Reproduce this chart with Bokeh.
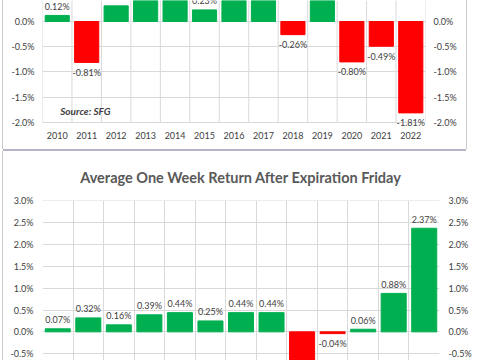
from bokeh.plotting import figure
from bokeh.models import (Range1d, FixedTicker, LinearAxis, PrintfTickFormatter,
                          ColumnDataSource, Label, LabelSet)
from bokeh.layouts import column
from bokeh.embed import file_html
from bokeh.resources import INLINE
from bokeh.core.properties import value

# ---------------- data ----------------
years = ["2010", "2011", "2012", "2013", "2014", "2015", "2016",
         "2017", "2018", "2019", "2020", "2021", "2022"]
expiry_week_return = [0.12, -0.81, 0.31, 0.58, 0.62, 0.23, 0.55,
                      0.52, -0.26, 0.48, -0.80, -0.49, -1.81]
week_after_return = [0.07, 0.32, 0.16, 0.39, 0.44, 0.25, 0.44,
                     0.44, -0.78, -0.04, 0.06, 0.88, 2.37]
top_ticks = [-2.0, -1.5, -1.0, -0.5, 0.0, 0.5]
bottom_ticks = [-0.5, 0.0, 0.5, 1.0, 1.5, 2.0, 2.5, 3.0]
bottom_title = "Average One Week Return After Expiration Friday"
source_note = "Source: SFG"

GREEN = "#00B050"
RED = "#FF0000"
FONT = "Lato"
TXT = "#404040"
GRID = "#d9d9d9"


def make_source(vals):
    n = len(vals)
    return ColumnDataSource(dict(
        x=[i + 0.5 for i in range(n)],
        v=vals,
        c=[GREEN if v >= 0 else RED for v in vals],
        lab=[f"{v:.2f}%" for v in vals],
        yo=[9 if v >= 0 else -10 for v in vals],
    ))


def style(p, n, ticks, standoff):
    p.x_range = Range1d(0, n)
    p.outline_line_color = None
    p.xgrid.ticker = FixedTicker(ticks=list(range(n + 1)))
    p.xgrid.grid_line_color = GRID
    p.ygrid.ticker = FixedTicker(ticks=ticks)
    p.ygrid.grid_line_color = GRID
    p.xaxis.ticker = FixedTicker(ticks=[i + 0.5 for i in range(n)])
    p.xaxis.major_label_overrides = {i + 0.5: years[i] for i in range(n)}
    p.yaxis.ticker = FixedTicker(ticks=ticks)
    p.yaxis.formatter = PrintfTickFormatter(format="%.1f%%")
    ax = LinearAxis(ticker=FixedTicker(ticks=ticks),
                    formatter=PrintfTickFormatter(format="%.1f%%"))
    p.add_layout(ax, "right")
    for ax in p.xaxis + p.yaxis:
        ax.axis_line_color = None
        ax.major_tick_line_color = None
        ax.minor_tick_line_color = None
        ax.major_tick_out = 0
        ax.major_label_text_font = FONT
        ax.major_label_text_font_size = "9px"
        ax.major_label_text_color = TXT
        ax.major_label_standoff = standoff


def bars(p, src):
    p.vbar(x="x", top="v", bottom=0, width=0.82, source=src,
           fill_color="c", line_color="c")
    p.add_layout(LabelSet(x="x", y="v", text="lab", source=src, y_offset="yo",
                          text_align="center", text_baseline="middle",
                          text_font=value(FONT), text_font_size="9px",
                          text_color=TXT))


n = len(years)

# ---------------- top (cropped) chart ----------------
top_range = Range1d(-2.139, 0.416)
top = figure(width=463, height=149, output_backend="svg", toolbar_location=None,
             y_range=top_range,
             min_border_left=36, min_border_right=41,
             min_border_top=0, min_border_bottom=20)
top.margin = (0, 0, 0, 3)
style(top, n, top_ticks, 8)
top.xaxis.major_label_standoff = 2
# vertical category gridlines stop at the lowest tick, like the plot area
top.xgrid.visible = False
bounds = list(range(n + 1))
top.segment(x0=bounds, x1=bounds, y0=[min(top_ticks)] * len(bounds),
            y1=[top_range.end] * len(bounds), line_color=GRID, line_width=1,
            level="underlay")
bars(top, make_source(expiry_week_return))
top.add_layout(Label(x=0.6, y=-1.77, text=source_note, text_font=FONT,
                     text_font_size="10px", text_font_style="bold italic",
                     text_color=TXT, text_baseline="middle"))
top.styles = {"box-shadow": "-1px 0 0 #c8c8c8, 1px 0 0 #c8c8c8, 0 2px 0 #b4b4c4"}

# ---------------- bottom chart ----------------
bot = figure(width=477, height=209, output_backend="svg", toolbar_location=None,
             y_range=Range1d(-0.655, 3.005),
             min_border_left=39, min_border_right=40,
             min_border_top=44, min_border_bottom=0)
bot.margin = (2, 0, 0, 3)
style(bot, n, bottom_ticks, 9)
bot.xaxis.visible = False
bars(bot, make_source(week_after_return))
bot.title.text = bottom_title
bot.title.align = "center"
bot.title.text_font = FONT
bot.title.text_font_size = "14.5px"
bot.title.text_font_style = "bold"
bot.title.text_color = "#595959"
bot.title.standoff = 30
bot.styles = {"box-shadow": "-1px 0 0 #c8c8c8"}

layout = column(top, bot, spacing=0)
open("out.html", "w").write(file_html(layout, INLINE))
